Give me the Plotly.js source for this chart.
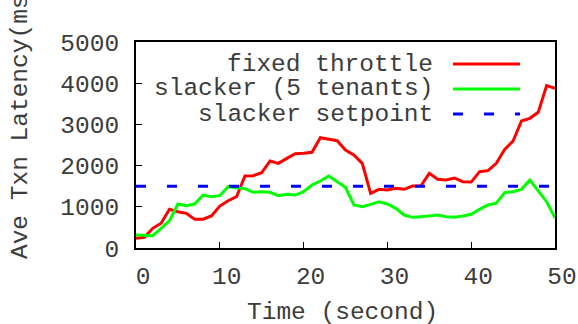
<!DOCTYPE html>
<html>
<head>
<meta charset="utf-8">
<script src="https://cdn.plot.ly/plotly-3.0.1.min.js"></script>
<style>html,body{margin:0;padding:0;background:#fff;}#chart{width:578px;height:324px;}</style>
</head>
<body>
<div id="chart"></div>
<script>
// ---- data ----
const timeSec = [0,1,2,3,4,5,6,7,8,9,10,11,12,13,14,15,16,17,18,19,20,21,22,23,24,25,26,27,28,29,30,31,32,33,34,35,36,37,38,39,40,41,42,43,44,45,46,47,48,49,50];
const fixedThrottle = [235,260,478,600,940,880,840,696,700,777,1019,1148,1245,1748,1755,1828,2112,2055,2176,2290,2298,2322,2678,2638,2605,2379,2257,2055,1327,1424,1408,1448,1424,1505,1510,1812,1667,1650,1700,1610,1600,1853,1877,2055,2395,2597,3083,3147,3293,3940,3875];
const slacker5 = [315,315,300,478,663,1068,1027,1068,1286,1245,1270,1488,1464,1440,1351,1367,1351,1270,1303,1286,1367,1529,1626,1748,1610,1473,1044,1003,1060,1124,1068,963,800,744,760,777,800,760,744,777,817,939,1044,1090,1343,1367,1424,1650,1391,1124,730];
const setpoint = 1500;
const seriesNames = ["fixed throttle", "slacker (5 tenants)", "slacker setpoint"];
const xTicks = [0,10,20,30,40,50];
const yTicks = [0,1000,2000,3000,4000,5000];

const FONT = "Liberation Mono, Courier New, monospace";
const FS = 24.5;
const TXT = "#3c3c3c";
const DASH = "10px,21px";

const traces = [
  {x: timeSec, y: fixedThrottle, mode: "lines", name: seriesNames[0], line: {color: "#ff0000", width: 3}},
  {x: timeSec, y: slacker5, mode: "lines", name: seriesNames[1], line: {color: "#00ff00", width: 3}},
  {x: [timeSec[0], timeSec[timeSec.length-1]], y: [setpoint, setpoint], mode: "lines", name: seriesNames[2], line: {color: "#0000ff", width: 3, dash: DASH}}
];

// legend drawn gnuplot-style: right-aligned text, sample on right
const legY = [0.893, 0.772, 0.650];
const legColors = ["#ff0000", "#00ff00", "#0000ff"];
const legDash = ["solid", "solid", DASH];
const annotations = seriesNames.map((n, i) => ({
  xref: "paper", yref: "paper", x: 0.7136, y: legY[i], xanchor: "right", yanchor: "middle",
  text: n, showarrow: false, font: {family: FONT, size: FS, color: TXT}
}));
annotations.push({
  xref: "paper", yref: "paper", x: 0, xshift: -116, y: 0.621, xanchor: "center", yanchor: "middle",
  text: "Ave Txn Latency(ms)", textangle: -90, showarrow: false, font: {family: FONT, size: FS, color: TXT}
});
annotations.push({
  xref: "paper", yref: "paper", x: 0.493, y: -0.3155, xanchor: "center", yanchor: "middle",
  text: "Time (second)", showarrow: false, font: {family: FONT, size: FS, color: TXT}
});
const shapes = seriesNames.map((n, i) => ({
  type: "line", xref: "paper", yref: "paper", x0: 0.7566, x1: 0.9165, y0: legY[i], y1: legY[i],
  line: {color: legColors[i], width: 3, dash: legDash[i]}
}));

const layout = {
  width: 578, height: 324,
  margin: {l: 136, r: 23, t: 42, b: 76, pad: 0},
  paper_bgcolor: "#ffffff", plot_bgcolor: "#ffffff",
  showlegend: false,
  font: {family: FONT, size: FS, color: TXT},
  xaxis: {
    range: [0, 50], tickvals: xTicks, ticktext: xTicks.map(String),
    showgrid: false, zeroline: false, showline: true, mirror: true, linecolor: "#000", linewidth: 2,
    ticks: "inside", ticklen: 6, tickwidth: 1, tickcolor: "#000",
    tickfont: {family: FONT, size: FS, color: TXT}, ticklabelshift: 7, ticklabelstandoff: 5,
    automargin: false
  },
  yaxis: {
    range: [0, 5000], tickvals: yTicks, ticktext: yTicks.map(String),
    showgrid: false, zeroline: false, showline: true, mirror: true, linecolor: "#000", linewidth: 2,
    ticks: "inside", ticklen: 6, tickwidth: 1, tickcolor: "#000",
    tickfont: {family: FONT, size: FS, color: TXT}, ticklabelstandoff: 10,
    automargin: false
  },
  annotations: annotations,
  shapes: shapes
};

Plotly.newPlot("chart", traces, layout, {staticPlot: true, displayModeBar: false});
</script>
</body>
</html>
